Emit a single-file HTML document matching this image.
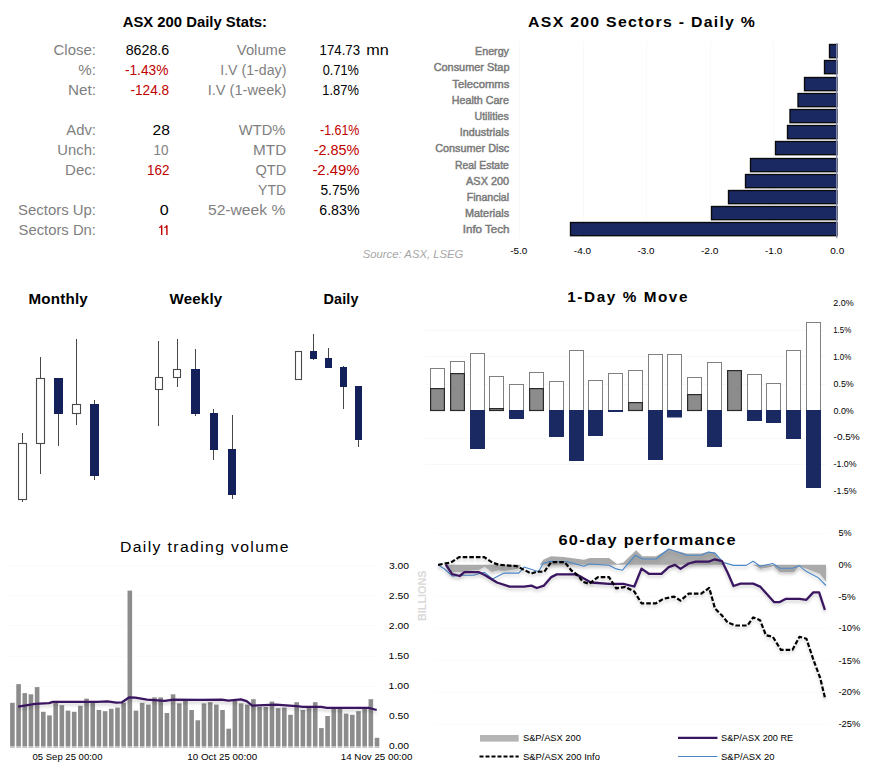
<!DOCTYPE html>
<html><head><meta charset="utf-8"><style>
html,body{margin:0;padding:0;background:#fff;width:884px;height:779px;overflow:hidden}
svg{display:block;font-family:"Liberation Sans",sans-serif}
</style></head><body>
<svg width="884" height="779" viewBox="0 0 884 779">
<text x="122.73" y="27.00" font-size="14" fill="#000" font-weight="bold" textLength="144.31" lengthAdjust="spacingAndGlyphs" >ASX 200 Daily Stats:</text>
<text x="53.55" y="54.60" font-size="14" fill="#7f7f7f" font-weight="normal" textLength="42.47" lengthAdjust="spacingAndGlyphs" >Close:</text>
<text x="78.27" y="74.60" font-size="14" fill="#7f7f7f" font-weight="normal" textLength="17.73" lengthAdjust="spacingAndGlyphs" >%:</text>
<text x="68.08" y="94.60" font-size="14" fill="#7f7f7f" font-weight="normal" textLength="27.95" lengthAdjust="spacingAndGlyphs" >Net:</text>
<text x="66.30" y="134.80" font-size="14" fill="#7f7f7f" font-weight="normal" textLength="29.65" lengthAdjust="spacingAndGlyphs" >Adv:</text>
<text x="57.39" y="154.80" font-size="14" fill="#7f7f7f" font-weight="normal" textLength="38.57" lengthAdjust="spacingAndGlyphs" >Unch:</text>
<text x="65.10" y="174.80" font-size="14" fill="#7f7f7f" font-weight="normal" textLength="30.87" lengthAdjust="spacingAndGlyphs" >Dec:</text>
<text x="18.03" y="214.80" font-size="14" fill="#7f7f7f" font-weight="normal" textLength="77.98" lengthAdjust="spacingAndGlyphs" >Sectors Up:</text>
<text x="18.53" y="234.80" font-size="14" fill="#7f7f7f" font-weight="normal" textLength="77.46" lengthAdjust="spacingAndGlyphs" >Sectors Dn:</text>
<text x="236.83" y="54.60" font-size="14" fill="#7f7f7f" font-weight="normal" textLength="49.35" lengthAdjust="spacingAndGlyphs" >Volume</text>
<text x="220.22" y="74.60" font-size="14" fill="#7f7f7f" font-weight="normal" textLength="66.17" lengthAdjust="spacingAndGlyphs" >I.V (1-day)</text>
<text x="207.68" y="94.60" font-size="14" fill="#7f7f7f" font-weight="normal" textLength="78.77" lengthAdjust="spacingAndGlyphs" >I.V (1-week)</text>
<text x="238.83" y="134.80" font-size="14" fill="#7f7f7f" font-weight="normal" textLength="46.50" lengthAdjust="spacingAndGlyphs" >WTD%</text>
<text x="253.08" y="154.80" font-size="14" fill="#7f7f7f" font-weight="normal" textLength="33.13" lengthAdjust="spacingAndGlyphs" >MTD</text>
<text x="255.45" y="174.80" font-size="14" fill="#7f7f7f" font-weight="normal" textLength="30.72" lengthAdjust="spacingAndGlyphs" >QTD</text>
<text x="258.05" y="194.80" font-size="14" fill="#7f7f7f" font-weight="normal" textLength="28.08" lengthAdjust="spacingAndGlyphs" >YTD</text>
<text x="207.97" y="214.80" font-size="14" fill="#7f7f7f" font-weight="normal" textLength="77.32" lengthAdjust="spacingAndGlyphs" >52-week %</text>
<text x="125.66" y="54.60" font-size="14" fill="#000" font-weight="normal" textLength="43.49" lengthAdjust="spacingAndGlyphs" >8628.6</text>
<text x="124.88" y="74.60" font-size="14" fill="#c00000" font-weight="normal" textLength="43.58" lengthAdjust="spacingAndGlyphs" >-1.43%</text>
<text x="130.49" y="94.60" font-size="14" fill="#c00000" font-weight="normal" textLength="38.67" lengthAdjust="spacingAndGlyphs" >-124.8</text>
<text x="152.52" y="134.80" font-size="14" fill="#000" font-weight="normal" textLength="17.34" lengthAdjust="spacingAndGlyphs" >28</text>
<text x="153.59" y="154.80" font-size="14" fill="#7f7f7f" font-weight="normal" textLength="15.02" lengthAdjust="spacingAndGlyphs" >10</text>
<text x="146.99" y="174.80" font-size="14" fill="#c00000" font-weight="normal" textLength="22.43" lengthAdjust="spacingAndGlyphs" >162</text>
<text x="159.76" y="214.80" font-size="14" fill="#000" font-weight="normal" textLength="8.92" lengthAdjust="spacingAndGlyphs" >0</text>
<path d="M161.0,225.2 L162.4,225.2 L162.4,234.9 L161.0,234.9 L161.0,227.6 Q160.4,228.0 159.0,228.0 L159.0,227.0 Q160.6,226.6 161.0,225.2 Z" fill="#c00000"/>
<path d="M166.2,225.2 L167.6,225.2 L167.6,234.9 L166.2,234.9 L166.2,227.6 Q165.6,228.0 164.2,228.0 L164.2,227.0 Q165.8,226.6 166.2,225.2 Z" fill="#c00000"/>
<text x="319.61" y="54.60" font-size="14" fill="#000" font-weight="normal" textLength="40.40" lengthAdjust="spacingAndGlyphs" >174.73</text>
<text x="366.35" y="54.60" font-size="14" fill="#000" font-weight="normal" textLength="22.49" lengthAdjust="spacingAndGlyphs" >mn</text>
<text x="322.79" y="74.60" font-size="14" fill="#000" font-weight="normal" textLength="36.06" lengthAdjust="spacingAndGlyphs" >0.71%</text>
<text x="322.33" y="94.60" font-size="14" fill="#000" font-weight="normal" textLength="36.52" lengthAdjust="spacingAndGlyphs" >1.87%</text>
<text x="320.04" y="134.80" font-size="14" fill="#c00000" font-weight="normal" textLength="39.38" lengthAdjust="spacingAndGlyphs" >-1.61%</text>
<text x="313.65" y="154.80" font-size="14" fill="#c00000" font-weight="normal" textLength="45.84" lengthAdjust="spacingAndGlyphs" >-2.85%</text>
<text x="312.43" y="174.80" font-size="14" fill="#c00000" font-weight="normal" textLength="47.07" lengthAdjust="spacingAndGlyphs" >-2.49%</text>
<text x="320.45" y="194.80" font-size="14" fill="#000" font-weight="normal" textLength="39.04" lengthAdjust="spacingAndGlyphs" >5.75%</text>
<text x="319.29" y="214.80" font-size="14" fill="#000" font-weight="normal" textLength="40.21" lengthAdjust="spacingAndGlyphs" >6.83%</text>
<text x="362.76" y="257.60" font-size="11.7" fill="#a6a6a6" font-weight="normal" font-style="italic" textLength="100.61" lengthAdjust="spacingAndGlyphs" >Source: ASX, LSEG</text>
<text transform="translate(528.50,27.20) scale(1.0571,1)" x="-0.38" y="0" font-size="15" fill="#000" font-weight="bold" letter-spacing="1.2" >ASX 200 Sectors - Daily %</text>
<line x1="837.5" y1="41" x2="837.5" y2="239" stroke="#f9f9f9" stroke-width="1"/>
<line x1="773.5" y1="41" x2="773.5" y2="239" stroke="#f9f9f9" stroke-width="1"/>
<line x1="710.5" y1="41" x2="710.5" y2="239" stroke="#f9f9f9" stroke-width="1"/>
<line x1="646.5" y1="41" x2="646.5" y2="239" stroke="#f9f9f9" stroke-width="1"/>
<line x1="583.5" y1="41" x2="583.5" y2="239" stroke="#f9f9f9" stroke-width="1"/>
<line x1="519.5" y1="41" x2="519.5" y2="239" stroke="#f9f9f9" stroke-width="1"/>
<rect x="829.5" y="44.5" width="7.5" height="13.2" fill="#1b2962" stroke="#0a0a0a" stroke-width="1.35"/>
<text x="475.04" y="55.15" font-size="10.5" fill="#7a7a7a" font-weight="normal" textLength="33.94" lengthAdjust="spacingAndGlyphs" stroke="#7a7a7a" stroke-width="0.45">Energy</text>
<rect x="824.5" y="60.5" width="12.5" height="13.2" fill="#1b2962" stroke="#0a0a0a" stroke-width="1.35"/>
<text x="433.65" y="71.15" font-size="10.5" fill="#7a7a7a" font-weight="normal" textLength="75.81" lengthAdjust="spacingAndGlyphs" stroke="#7a7a7a" stroke-width="0.45">Consumer Stap</text>
<rect x="804.5" y="77.5" width="32.5" height="13.2" fill="#1b2962" stroke="#0a0a0a" stroke-width="1.35"/>
<text x="452.27" y="88.15" font-size="10.5" fill="#7a7a7a" font-weight="normal" textLength="57.14" lengthAdjust="spacingAndGlyphs" stroke="#7a7a7a" stroke-width="0.45">Telecomms</text>
<rect x="798.0" y="93.5" width="39.0" height="13.2" fill="#1b2962" stroke="#0a0a0a" stroke-width="1.35"/>
<text x="451.84" y="104.15" font-size="10.5" fill="#7a7a7a" font-weight="normal" textLength="57.05" lengthAdjust="spacingAndGlyphs" stroke="#7a7a7a" stroke-width="0.45">Health Care</text>
<rect x="790.0" y="109.5" width="47.0" height="13.2" fill="#1b2962" stroke="#0a0a0a" stroke-width="1.35"/>
<text x="474.50" y="120.15" font-size="10.5" fill="#7a7a7a" font-weight="normal" textLength="34.24" lengthAdjust="spacingAndGlyphs" stroke="#7a7a7a" stroke-width="0.45">Utilities</text>
<rect x="787.5" y="125.5" width="49.5" height="13.2" fill="#1b2962" stroke="#0a0a0a" stroke-width="1.35"/>
<text x="459.83" y="136.15" font-size="10.5" fill="#7a7a7a" font-weight="normal" textLength="49.23" lengthAdjust="spacingAndGlyphs" stroke="#7a7a7a" stroke-width="0.45">Industrials</text>
<rect x="775.5" y="141.5" width="61.5" height="13.2" fill="#1b2962" stroke="#0a0a0a" stroke-width="1.35"/>
<text x="435.26" y="152.15" font-size="10.5" fill="#7a7a7a" font-weight="normal" textLength="74.01" lengthAdjust="spacingAndGlyphs" stroke="#7a7a7a" stroke-width="0.45">Consumer Disc</text>
<rect x="750.5" y="158.5" width="86.5" height="13.2" fill="#1b2962" stroke="#0a0a0a" stroke-width="1.35"/>
<text x="454.97" y="169.15" font-size="10.5" fill="#7a7a7a" font-weight="normal" textLength="53.90" lengthAdjust="spacingAndGlyphs" stroke="#7a7a7a" stroke-width="0.45">Real Estate</text>
<rect x="745.5" y="174.5" width="91.5" height="13.2" fill="#1b2962" stroke="#0a0a0a" stroke-width="1.35"/>
<text x="466.10" y="185.15" font-size="10.5" fill="#7a7a7a" font-weight="normal" textLength="43.01" lengthAdjust="spacingAndGlyphs" stroke="#7a7a7a" stroke-width="0.45">ASX 200</text>
<rect x="728.5" y="190.5" width="108.5" height="13.2" fill="#1b2962" stroke="#0a0a0a" stroke-width="1.35"/>
<text x="466.75" y="201.15" font-size="10.5" fill="#7a7a7a" font-weight="normal" textLength="42.36" lengthAdjust="spacingAndGlyphs" stroke="#7a7a7a" stroke-width="0.45">Financial</text>
<rect x="711.5" y="206.5" width="125.5" height="13.2" fill="#1b2962" stroke="#0a0a0a" stroke-width="1.35"/>
<text x="465.03" y="217.15" font-size="10.5" fill="#7a7a7a" font-weight="normal" textLength="44.07" lengthAdjust="spacingAndGlyphs" stroke="#7a7a7a" stroke-width="0.45">Materials</text>
<rect x="570.5" y="222.5" width="266.5" height="13.2" fill="#1b2962" stroke="#0a0a0a" stroke-width="1.35"/>
<text x="462.76" y="233.15" font-size="10.5" fill="#7a7a7a" font-weight="normal" textLength="46.69" lengthAdjust="spacingAndGlyphs" stroke="#7a7a7a" stroke-width="0.45">Info Tech</text>
<line x1="836.7" y1="43" x2="836.7" y2="238" stroke="#8790b5" stroke-width="1.3"/>
<text x="510.15" y="253.80" font-size="9.5" fill="#000" font-weight="normal" textLength="17.13" lengthAdjust="spacingAndGlyphs" >-5.0</text>
<text x="573.85" y="253.80" font-size="9.5" fill="#000" font-weight="normal" textLength="17.13" lengthAdjust="spacingAndGlyphs" >-4.0</text>
<text x="637.56" y="253.80" font-size="9.5" fill="#000" font-weight="normal" textLength="16.92" lengthAdjust="spacingAndGlyphs" >-3.0</text>
<text x="700.94" y="253.80" font-size="9.5" fill="#000" font-weight="normal" textLength="17.55" lengthAdjust="spacingAndGlyphs" >-2.0</text>
<text x="765.05" y="253.80" font-size="9.5" fill="#000" font-weight="normal" textLength="17.13" lengthAdjust="spacingAndGlyphs" >-1.0</text>
<text x="830.30" y="253.80" font-size="9.5" fill="#000" font-weight="normal" textLength="13.95" lengthAdjust="spacingAndGlyphs" >0.0</text>
<text transform="translate(29.50,303.60) scale(1.0445,1)" x="-0.94" y="0" font-size="14.5" fill="#000" font-weight="bold" letter-spacing="0.2" >Monthly</text>
<text transform="translate(169.50,303.60) scale(1.0397,1)" x="-0.00" y="0" font-size="14.5" fill="#000" font-weight="bold" letter-spacing="0.2" >Weekly</text>
<text transform="translate(324.30,303.60) scale(0.9930,1)" x="-0.94" y="0" font-size="14.5" fill="#000" font-weight="bold" letter-spacing="0.2" >Daily</text>
<rect x="22" y="433" width="1" height="10" fill="#474747"/>
<rect x="22" y="500" width="1" height="2" fill="#474747"/>
<rect x="18.5" y="443.5" width="8" height="56" fill="#fff" stroke="#4a4a4a" stroke-width="1.1"/>
<rect x="40" y="357" width="1" height="21" fill="#474747"/>
<rect x="40" y="444" width="1" height="30" fill="#474747"/>
<rect x="36.5" y="378.5" width="8" height="65" fill="#fff" stroke="#4a4a4a" stroke-width="1.1"/>
<rect x="58" y="414" width="1" height="32" fill="#474747"/>
<rect x="54" y="378" width="9" height="36" fill="#13205a"/>
<rect x="76" y="339" width="1" height="65" fill="#474747"/>
<rect x="76" y="414" width="1" height="11" fill="#474747"/>
<rect x="72.5" y="404.5" width="8" height="9" fill="#fff" stroke="#4a4a4a" stroke-width="1.1"/>
<rect x="94" y="400" width="1" height="4" fill="#474747"/>
<rect x="94" y="476" width="1" height="4" fill="#474747"/>
<rect x="90" y="404" width="9" height="72" fill="#13205a"/>
<rect x="158" y="341" width="1" height="36" fill="#474747"/>
<rect x="158" y="390" width="1" height="36" fill="#474747"/>
<rect x="155.5" y="377.5" width="7" height="12" fill="#fff" stroke="#4a4a4a" stroke-width="1.1"/>
<rect x="177" y="339" width="1" height="30" fill="#474747"/>
<rect x="177" y="378" width="1" height="9" fill="#474747"/>
<rect x="173.5" y="369.5" width="7" height="8" fill="#fff" stroke="#4a4a4a" stroke-width="1.1"/>
<rect x="195" y="349" width="1" height="20" fill="#474747"/>
<rect x="195" y="414" width="1" height="2" fill="#474747"/>
<rect x="191" y="369" width="9" height="45" fill="#13205a"/>
<rect x="213" y="409" width="1" height="4" fill="#474747"/>
<rect x="213" y="450" width="1" height="10" fill="#474747"/>
<rect x="210" y="413" width="8" height="37" fill="#13205a"/>
<rect x="232" y="415" width="1" height="34" fill="#474747"/>
<rect x="232" y="495" width="1" height="4" fill="#474747"/>
<rect x="228" y="449" width="8" height="46" fill="#13205a"/>
<rect x="295.5" y="351.5" width="6" height="28" fill="#fff" stroke="#4a4a4a" stroke-width="1.1"/>
<rect x="313" y="334" width="1" height="17" fill="#474747"/>
<rect x="313" y="359" width="1" height="1" fill="#474747"/>
<rect x="310" y="351" width="7" height="8" fill="#13205a"/>
<rect x="328" y="348" width="1" height="10" fill="#474747"/>
<rect x="325" y="358" width="7" height="10" fill="#13205a"/>
<rect x="343" y="366" width="1" height="1" fill="#474747"/>
<rect x="343" y="387" width="1" height="22" fill="#474747"/>
<rect x="340" y="367" width="7" height="20" fill="#13205a"/>
<rect x="358" y="440" width="1" height="7" fill="#474747"/>
<rect x="355" y="386" width="7" height="54" fill="#13205a"/>
<text transform="translate(568.20,301.60) scale(1.0547,1)" x="-0.87" y="0" font-size="14.5" fill="#000" font-weight="bold" letter-spacing="1.5" >1-Day % Move</text>
<line x1="425" y1="464.5" x2="826" y2="464.5" stroke="#f8f8f8" stroke-width="1"/>
<line x1="425" y1="438.5" x2="826" y2="438.5" stroke="#f8f8f8" stroke-width="1"/>
<line x1="425" y1="384.5" x2="826" y2="384.5" stroke="#f8f8f8" stroke-width="1"/>
<line x1="425" y1="356.5" x2="826" y2="356.5" stroke="#f8f8f8" stroke-width="1"/>
<line x1="425" y1="330.5" x2="826" y2="330.5" stroke="#f8f8f8" stroke-width="1"/>
<text x="833.35" y="306.20" font-size="9.3" fill="#000" font-weight="normal" textLength="20.46" lengthAdjust="spacingAndGlyphs" >2.0%</text>
<text x="833.21" y="333.20" font-size="9.3" fill="#000" font-weight="normal" textLength="18.07" lengthAdjust="spacingAndGlyphs" >1.5%</text>
<text x="833.21" y="360.20" font-size="9.3" fill="#000" font-weight="normal" textLength="18.07" lengthAdjust="spacingAndGlyphs" >1.0%</text>
<text x="833.44" y="387.20" font-size="9.3" fill="#000" font-weight="normal" textLength="20.36" lengthAdjust="spacingAndGlyphs" >0.5%</text>
<text x="833.44" y="413.90" font-size="9.3" fill="#000" font-weight="normal" textLength="20.36" lengthAdjust="spacingAndGlyphs" >0.0%</text>
<text x="833.55" y="439.80" font-size="9.3" fill="#000" font-weight="normal" textLength="26.17" lengthAdjust="spacingAndGlyphs" >-0.5%</text>
<text x="833.60" y="466.80" font-size="9.3" fill="#000" font-weight="normal" textLength="22.98" lengthAdjust="spacingAndGlyphs" >-1.0%</text>
<text x="833.60" y="493.90" font-size="9.3" fill="#000" font-weight="normal" textLength="22.98" lengthAdjust="spacingAndGlyphs" >-1.5%</text>
<rect x="430.5" y="368.5" width="14" height="42" fill="#fff" stroke="#808080" stroke-width="1"/>
<rect x="430.6" y="388.6" width="13.8" height="21.9" fill="#8c8c8c" stroke="#2a2a2a" stroke-width="1.2"/>
<rect x="450.5" y="361.5" width="14" height="49" fill="#fff" stroke="#808080" stroke-width="1"/>
<rect x="450.6" y="373.6" width="13.8" height="36.9" fill="#8c8c8c" stroke="#2a2a2a" stroke-width="1.2"/>
<rect x="470.5" y="353.5" width="14" height="57" fill="#fff" stroke="#808080" stroke-width="1"/>
<rect x="470" y="410" width="15" height="39" fill="#1b2962"/>
<rect x="489.5" y="376.5" width="14" height="34" fill="#fff" stroke="#808080" stroke-width="1"/>
<rect x="489.6" y="408.6" width="13.8" height="1.9" fill="#8c8c8c" stroke="#2a2a2a" stroke-width="1.2"/>
<rect x="509.5" y="384.5" width="14" height="26" fill="#fff" stroke="#808080" stroke-width="1"/>
<rect x="509" y="410" width="15" height="9" fill="#1b2962"/>
<rect x="529.5" y="372.5" width="14" height="38" fill="#fff" stroke="#808080" stroke-width="1"/>
<rect x="529.6" y="388.6" width="13.8" height="21.9" fill="#8c8c8c" stroke="#2a2a2a" stroke-width="1.2"/>
<rect x="549.5" y="381.5" width="14" height="29" fill="#fff" stroke="#808080" stroke-width="1"/>
<rect x="549" y="410" width="15" height="27" fill="#1b2962"/>
<rect x="569.5" y="350.5" width="14" height="60" fill="#fff" stroke="#808080" stroke-width="1"/>
<rect x="569" y="410" width="15" height="51" fill="#1b2962"/>
<rect x="588.5" y="380.5" width="14" height="30" fill="#fff" stroke="#808080" stroke-width="1"/>
<rect x="588" y="410" width="15" height="26" fill="#1b2962"/>
<rect x="608.5" y="373.5" width="14" height="37" fill="#fff" stroke="#808080" stroke-width="1"/>
<rect x="608" y="410" width="15" height="2" fill="#1b2962"/>
<rect x="628.5" y="370.5" width="14" height="40" fill="#fff" stroke="#808080" stroke-width="1"/>
<rect x="628.6" y="402.6" width="13.8" height="7.9" fill="#8c8c8c" stroke="#2a2a2a" stroke-width="1.2"/>
<rect x="648.5" y="354.5" width="14" height="56" fill="#fff" stroke="#808080" stroke-width="1"/>
<rect x="648" y="410" width="15" height="50" fill="#1b2962"/>
<rect x="667.5" y="354.5" width="14" height="56" fill="#fff" stroke="#808080" stroke-width="1"/>
<rect x="667" y="410" width="15" height="7.5" fill="#1b2962"/>
<rect x="687.5" y="377.5" width="14" height="33" fill="#fff" stroke="#808080" stroke-width="1"/>
<rect x="687.6" y="394.6" width="13.8" height="15.9" fill="#8c8c8c" stroke="#2a2a2a" stroke-width="1.2"/>
<rect x="707.5" y="362.5" width="14" height="48" fill="#fff" stroke="#808080" stroke-width="1"/>
<rect x="707" y="410" width="15" height="37" fill="#1b2962"/>
<rect x="727.5" y="370.5" width="14" height="40" fill="#fff" stroke="#808080" stroke-width="1"/>
<rect x="727.6" y="370.6" width="13.8" height="39.9" fill="#8c8c8c" stroke="#2a2a2a" stroke-width="1.2"/>
<rect x="747.5" y="374.5" width="14" height="36" fill="#fff" stroke="#808080" stroke-width="1"/>
<rect x="747" y="410" width="15" height="11" fill="#1b2962"/>
<rect x="766.5" y="383.5" width="14" height="27" fill="#fff" stroke="#808080" stroke-width="1"/>
<rect x="766" y="410" width="15" height="13" fill="#1b2962"/>
<rect x="786.5" y="350.5" width="14" height="60" fill="#fff" stroke="#808080" stroke-width="1"/>
<rect x="786" y="410" width="15" height="29" fill="#1b2962"/>
<rect x="806.5" y="322.5" width="14" height="88" fill="#fff" stroke="#808080" stroke-width="1"/>
<rect x="806" y="410" width="15" height="78" fill="#1b2962"/>
<defs><filter id="sh" x="-5%" y="-20%" width="110%" height="160%"><feDropShadow dx="0" dy="2.5" stdDeviation="1.6" flood-color="#000" flood-opacity="0.18"/></filter><linearGradient id="bb" x1="0" y1="0" x2="0" y2="1"><stop offset="0" stop-color="#8c8c8c"/><stop offset="1" stop-color="#c8c8c8"/></linearGradient></defs>
<text transform="translate(121.20,552.20) scale(1.0509,1)" x="-1.20" y="0" font-size="15" fill="#000" font-weight="normal" letter-spacing="1.3" >Daily trading volume</text>
<line x1="8" y1="716.5" x2="380" y2="716.5" stroke="#fbfbfb" stroke-width="1"/>
<line x1="8" y1="686.5" x2="380" y2="686.5" stroke="#fbfbfb" stroke-width="1"/>
<line x1="8" y1="656.5" x2="380" y2="656.5" stroke="#fbfbfb" stroke-width="1"/>
<line x1="8" y1="625.5" x2="380" y2="625.5" stroke="#fbfbfb" stroke-width="1"/>
<line x1="8" y1="595.5" x2="380" y2="595.5" stroke="#fbfbfb" stroke-width="1"/>
<line x1="8" y1="565.5" x2="380" y2="565.5" stroke="#fbfbfb" stroke-width="1"/>
<rect x="10.10" y="702.8" width="4.6" height="43.2" fill="#8c8c8c"/>
<rect x="10.10" y="746.0" width="4.6" height="2" fill="#c4c4c4"/>
<rect x="16.28" y="684.1" width="4.6" height="61.9" fill="#8c8c8c"/>
<rect x="16.28" y="746.0" width="4.6" height="2" fill="#c4c4c4"/>
<rect x="22.46" y="693.1" width="4.6" height="52.9" fill="#8c8c8c"/>
<rect x="22.46" y="746.0" width="4.6" height="2" fill="#c4c4c4"/>
<rect x="28.64" y="694.3" width="4.6" height="51.7" fill="#8c8c8c"/>
<rect x="28.64" y="746.0" width="4.6" height="2" fill="#c4c4c4"/>
<rect x="34.82" y="687.1" width="4.6" height="58.9" fill="#8c8c8c"/>
<rect x="34.82" y="746.0" width="4.6" height="2" fill="#c4c4c4"/>
<rect x="41.00" y="711.8" width="4.6" height="34.2" fill="#8c8c8c"/>
<rect x="41.00" y="746.0" width="4.6" height="2" fill="#c4c4c4"/>
<rect x="47.18" y="715.4" width="4.6" height="30.6" fill="#8c8c8c"/>
<rect x="47.18" y="746.0" width="4.6" height="2" fill="#c4c4c4"/>
<rect x="53.36" y="701.0" width="4.6" height="45.0" fill="#8c8c8c"/>
<rect x="53.36" y="746.0" width="4.6" height="2" fill="#c4c4c4"/>
<rect x="59.54" y="705.2" width="4.6" height="40.8" fill="#8c8c8c"/>
<rect x="59.54" y="746.0" width="4.6" height="2" fill="#c4c4c4"/>
<rect x="65.72" y="710.6" width="4.6" height="35.4" fill="#8c8c8c"/>
<rect x="65.72" y="746.0" width="4.6" height="2" fill="#c4c4c4"/>
<rect x="71.90" y="711.8" width="4.6" height="34.2" fill="#8c8c8c"/>
<rect x="71.90" y="746.0" width="4.6" height="2" fill="#c4c4c4"/>
<rect x="78.08" y="705.8" width="4.6" height="40.2" fill="#8c8c8c"/>
<rect x="78.08" y="746.0" width="4.6" height="2" fill="#c4c4c4"/>
<rect x="84.26" y="698.6" width="4.6" height="47.4" fill="#8c8c8c"/>
<rect x="84.26" y="746.0" width="4.6" height="2" fill="#c4c4c4"/>
<rect x="90.44" y="701.0" width="4.6" height="45.0" fill="#8c8c8c"/>
<rect x="90.44" y="746.0" width="4.6" height="2" fill="#c4c4c4"/>
<rect x="96.62" y="710.0" width="4.6" height="36.0" fill="#8c8c8c"/>
<rect x="96.62" y="746.0" width="4.6" height="2" fill="#c4c4c4"/>
<rect x="102.80" y="711.2" width="4.6" height="34.8" fill="#8c8c8c"/>
<rect x="102.80" y="746.0" width="4.6" height="2" fill="#c4c4c4"/>
<rect x="108.98" y="708.8" width="4.6" height="37.2" fill="#8c8c8c"/>
<rect x="108.98" y="746.0" width="4.6" height="2" fill="#c4c4c4"/>
<rect x="115.16" y="707.6" width="4.6" height="38.4" fill="#8c8c8c"/>
<rect x="115.16" y="746.0" width="4.6" height="2" fill="#c4c4c4"/>
<rect x="121.34" y="702.8" width="4.6" height="43.2" fill="#8c8c8c"/>
<rect x="121.34" y="746.0" width="4.6" height="2" fill="#c4c4c4"/>
<rect x="127.52" y="590.6" width="4.6" height="155.4" fill="#8c8c8c"/>
<rect x="127.52" y="746.0" width="4.6" height="2" fill="#c4c4c4"/>
<rect x="133.70" y="710.6" width="4.6" height="35.4" fill="#8c8c8c"/>
<rect x="133.70" y="746.0" width="4.6" height="2" fill="#c4c4c4"/>
<rect x="139.88" y="702.8" width="4.6" height="43.2" fill="#8c8c8c"/>
<rect x="139.88" y="746.0" width="4.6" height="2" fill="#c4c4c4"/>
<rect x="146.06" y="704.6" width="4.6" height="41.4" fill="#8c8c8c"/>
<rect x="146.06" y="746.0" width="4.6" height="2" fill="#c4c4c4"/>
<rect x="152.24" y="697.4" width="4.6" height="48.6" fill="#8c8c8c"/>
<rect x="152.24" y="746.0" width="4.6" height="2" fill="#c4c4c4"/>
<rect x="158.42" y="697.4" width="4.6" height="48.6" fill="#8c8c8c"/>
<rect x="158.42" y="746.0" width="4.6" height="2" fill="#c4c4c4"/>
<rect x="164.60" y="713.0" width="4.6" height="33.0" fill="#8c8c8c"/>
<rect x="164.60" y="746.0" width="4.6" height="2" fill="#c4c4c4"/>
<rect x="170.78" y="694.3" width="4.6" height="51.7" fill="#8c8c8c"/>
<rect x="170.78" y="746.0" width="4.6" height="2" fill="#c4c4c4"/>
<rect x="176.96" y="703.4" width="4.6" height="42.6" fill="#8c8c8c"/>
<rect x="176.96" y="746.0" width="4.6" height="2" fill="#c4c4c4"/>
<rect x="183.14" y="700.4" width="4.6" height="45.6" fill="#8c8c8c"/>
<rect x="183.14" y="746.0" width="4.6" height="2" fill="#c4c4c4"/>
<rect x="189.32" y="710.0" width="4.6" height="36.0" fill="#8c8c8c"/>
<rect x="189.32" y="746.0" width="4.6" height="2" fill="#c4c4c4"/>
<rect x="195.50" y="720.3" width="4.6" height="25.7" fill="#8c8c8c"/>
<rect x="195.50" y="746.0" width="4.6" height="2" fill="#c4c4c4"/>
<rect x="201.68" y="703.4" width="4.6" height="42.6" fill="#8c8c8c"/>
<rect x="201.68" y="746.0" width="4.6" height="2" fill="#c4c4c4"/>
<rect x="207.86" y="702.2" width="4.6" height="43.8" fill="#8c8c8c"/>
<rect x="207.86" y="746.0" width="4.6" height="2" fill="#c4c4c4"/>
<rect x="214.04" y="704.6" width="4.6" height="41.4" fill="#8c8c8c"/>
<rect x="214.04" y="746.0" width="4.6" height="2" fill="#c4c4c4"/>
<rect x="220.22" y="710.0" width="4.6" height="36.0" fill="#8c8c8c"/>
<rect x="220.22" y="746.0" width="4.6" height="2" fill="#c4c4c4"/>
<rect x="226.40" y="728.7" width="4.6" height="17.3" fill="#8c8c8c"/>
<rect x="226.40" y="746.0" width="4.6" height="2" fill="#c4c4c4"/>
<rect x="232.58" y="701.0" width="4.6" height="45.0" fill="#8c8c8c"/>
<rect x="232.58" y="746.0" width="4.6" height="2" fill="#c4c4c4"/>
<rect x="238.76" y="703.4" width="4.6" height="42.6" fill="#8c8c8c"/>
<rect x="238.76" y="746.0" width="4.6" height="2" fill="#c4c4c4"/>
<rect x="244.94" y="704.6" width="4.6" height="41.4" fill="#8c8c8c"/>
<rect x="244.94" y="746.0" width="4.6" height="2" fill="#c4c4c4"/>
<rect x="251.12" y="699.2" width="4.6" height="46.8" fill="#8c8c8c"/>
<rect x="251.12" y="746.0" width="4.6" height="2" fill="#c4c4c4"/>
<rect x="257.30" y="707.0" width="4.6" height="39.0" fill="#8c8c8c"/>
<rect x="257.30" y="746.0" width="4.6" height="2" fill="#c4c4c4"/>
<rect x="263.48" y="707.0" width="4.6" height="39.0" fill="#8c8c8c"/>
<rect x="263.48" y="746.0" width="4.6" height="2" fill="#c4c4c4"/>
<rect x="269.66" y="701.6" width="4.6" height="44.4" fill="#8c8c8c"/>
<rect x="269.66" y="746.0" width="4.6" height="2" fill="#c4c4c4"/>
<rect x="275.84" y="708.2" width="4.6" height="37.8" fill="#8c8c8c"/>
<rect x="275.84" y="746.0" width="4.6" height="2" fill="#c4c4c4"/>
<rect x="282.02" y="707.6" width="4.6" height="38.4" fill="#8c8c8c"/>
<rect x="282.02" y="746.0" width="4.6" height="2" fill="#c4c4c4"/>
<rect x="288.20" y="714.8" width="4.6" height="31.2" fill="#8c8c8c"/>
<rect x="288.20" y="746.0" width="4.6" height="2" fill="#c4c4c4"/>
<rect x="294.38" y="702.2" width="4.6" height="43.8" fill="#8c8c8c"/>
<rect x="294.38" y="746.0" width="4.6" height="2" fill="#c4c4c4"/>
<rect x="300.56" y="710.0" width="4.6" height="36.0" fill="#8c8c8c"/>
<rect x="300.56" y="746.0" width="4.6" height="2" fill="#c4c4c4"/>
<rect x="306.74" y="707.6" width="4.6" height="38.4" fill="#8c8c8c"/>
<rect x="306.74" y="746.0" width="4.6" height="2" fill="#c4c4c4"/>
<rect x="312.92" y="702.2" width="4.6" height="43.8" fill="#8c8c8c"/>
<rect x="312.92" y="746.0" width="4.6" height="2" fill="#c4c4c4"/>
<rect x="319.10" y="728.1" width="4.6" height="17.9" fill="#8c8c8c"/>
<rect x="319.10" y="746.0" width="4.6" height="2" fill="#c4c4c4"/>
<rect x="325.28" y="716.0" width="4.6" height="30.0" fill="#8c8c8c"/>
<rect x="325.28" y="746.0" width="4.6" height="2" fill="#c4c4c4"/>
<rect x="331.46" y="708.8" width="4.6" height="37.2" fill="#8c8c8c"/>
<rect x="331.46" y="746.0" width="4.6" height="2" fill="#c4c4c4"/>
<rect x="337.64" y="708.8" width="4.6" height="37.2" fill="#8c8c8c"/>
<rect x="337.64" y="746.0" width="4.6" height="2" fill="#c4c4c4"/>
<rect x="343.82" y="713.6" width="4.6" height="32.4" fill="#8c8c8c"/>
<rect x="343.82" y="746.0" width="4.6" height="2" fill="#c4c4c4"/>
<rect x="350.00" y="714.8" width="4.6" height="31.2" fill="#8c8c8c"/>
<rect x="350.00" y="746.0" width="4.6" height="2" fill="#c4c4c4"/>
<rect x="356.18" y="711.2" width="4.6" height="34.8" fill="#8c8c8c"/>
<rect x="356.18" y="746.0" width="4.6" height="2" fill="#c4c4c4"/>
<rect x="362.36" y="707.6" width="4.6" height="38.4" fill="#8c8c8c"/>
<rect x="362.36" y="746.0" width="4.6" height="2" fill="#c4c4c4"/>
<rect x="368.54" y="699.2" width="4.6" height="46.8" fill="#8c8c8c"/>
<rect x="368.54" y="746.0" width="4.6" height="2" fill="#c4c4c4"/>
<rect x="374.72" y="737.8" width="4.6" height="8.2" fill="#8c8c8c"/>
<rect x="374.72" y="746.0" width="4.6" height="2" fill="#c4c4c4"/>
<polyline points="18.2,706.7 35.3,703.8 49.0,703.2 53.0,701.9 97.0,701.9 107.4,701.4 116.2,702.6 122.0,702.3 129.4,697.3 135.3,697.6 147.0,699.6 164.7,700.8 173.5,699.6 200.0,699.9 221.7,699.7 228.5,700.6 240.9,699.3 246.6,701.1 252.2,705.6 276.0,704.6 296.3,706.2 303.1,706.9 321.2,706.9 326.9,707.8 348.4,707.8 368.7,707.8 376.7,710.0" fill="none" stroke="#3b1660" stroke-width="2.3" stroke-linejoin="round" filter="url(#sh)"/>
<text x="32.52" y="759.80" font-size="9.4" fill="#000" font-weight="normal" textLength="69.91" lengthAdjust="spacingAndGlyphs" >05 Sep 25 00:00</text>
<text x="187.36" y="759.80" font-size="9.4" fill="#000" font-weight="normal" textLength="69.79" lengthAdjust="spacingAndGlyphs" >10 Oct 25 00:00</text>
<text x="340.77" y="759.80" font-size="9.4" fill="#000" font-weight="normal" textLength="71.66" lengthAdjust="spacingAndGlyphs" >14 Nov 25 00:00</text>
<text x="388.99" y="749.20" font-size="9.3" fill="#000" font-weight="normal" textLength="20.09" lengthAdjust="spacingAndGlyphs" >0.00</text>
<text x="388.99" y="719.17" font-size="9.3" fill="#000" font-weight="normal" textLength="20.09" lengthAdjust="spacingAndGlyphs" >0.50</text>
<text x="388.61" y="689.14" font-size="9.3" fill="#000" font-weight="normal" textLength="20.47" lengthAdjust="spacingAndGlyphs" >1.00</text>
<text x="388.61" y="659.11" font-size="9.3" fill="#000" font-weight="normal" textLength="20.47" lengthAdjust="spacingAndGlyphs" >1.50</text>
<text x="388.88" y="629.08" font-size="9.3" fill="#000" font-weight="normal" textLength="20.20" lengthAdjust="spacingAndGlyphs" >2.00</text>
<text x="388.88" y="599.05" font-size="9.3" fill="#000" font-weight="normal" textLength="20.20" lengthAdjust="spacingAndGlyphs" >2.50</text>
<text x="388.99" y="569.02" font-size="9.3" fill="#000" font-weight="normal" textLength="20.09" lengthAdjust="spacingAndGlyphs" >3.00</text>
<text transform="translate(426,621) rotate(-90)" x="0" y="0" font-size="11.5" fill="#d9d9d9" font-weight="bold" textLength="50.6" lengthAdjust="spacingAndGlyphs">BILLIONS</text>
<text transform="translate(559.00,545.40) scale(1.0875,1)" x="-0.53" y="0" font-size="15" fill="#000" font-weight="bold" letter-spacing="1.2" >60-day performance</text>
<line x1="435" y1="724.5" x2="830" y2="724.5" stroke="#fbfbfb" stroke-width="1"/>
<line x1="435" y1="692.5" x2="830" y2="692.5" stroke="#fbfbfb" stroke-width="1"/>
<line x1="435" y1="660.5" x2="830" y2="660.5" stroke="#fbfbfb" stroke-width="1"/>
<line x1="435" y1="628.5" x2="830" y2="628.5" stroke="#fbfbfb" stroke-width="1"/>
<line x1="435" y1="596.5" x2="830" y2="596.5" stroke="#fbfbfb" stroke-width="1"/>
<line x1="435" y1="533.5" x2="830" y2="533.5" stroke="#fbfbfb" stroke-width="1"/>
<text x="838.44" y="535.90" font-size="9.6" fill="#000" font-weight="normal" textLength="13.19" lengthAdjust="spacingAndGlyphs" >5%</text>
<text x="838.44" y="568.10" font-size="9.6" fill="#000" font-weight="normal" textLength="13.19" lengthAdjust="spacingAndGlyphs" >0%</text>
<text x="838.36" y="600.30" font-size="9.6" fill="#000" font-weight="normal" textLength="17.26" lengthAdjust="spacingAndGlyphs" >-5%</text>
<text x="838.38" y="631.20" font-size="9.6" fill="#000" font-weight="normal" textLength="21.95" lengthAdjust="spacingAndGlyphs" >-10%</text>
<text x="838.38" y="663.50" font-size="9.6" fill="#000" font-weight="normal" textLength="21.95" lengthAdjust="spacingAndGlyphs" >-15%</text>
<text x="838.38" y="695.30" font-size="9.6" fill="#000" font-weight="normal" textLength="21.95" lengthAdjust="spacingAndGlyphs" >-20%</text>
<text x="838.38" y="727.00" font-size="9.6" fill="#000" font-weight="normal" textLength="21.95" lengthAdjust="spacingAndGlyphs" >-25%</text>
<polygon points="438.1,564.7 445.8,564.7 450.3,572.4 461.1,572.0 479.2,569.7 484.7,567.0 491.9,572.0 497.3,570.6 504.7,571.0 518.3,568.8 521.0,564.7 539.8,564.7 543.2,559.7 551.1,556.3 563.5,556.9 583.9,559.7 590.0,558.0 609.0,558.0 617.1,564.0 623.4,562.6 636.1,550.3 642.4,556.2 656.0,556.2 668.7,549.0 686.8,553.5 701.3,553.5 708.5,551.7 714.8,552.6 723.0,564.7 752.0,564.7 756.0,566.0 760.4,568.7 771.2,567.0 773.3,566.0 779.8,572.0 793.8,572.0 799.1,566.5 804.5,568.1 819.6,573.5 826.0,581.6 826.0,564.7" fill="#aaaaaa" filter="url(#sh)"/>
<polyline points="438.1,564.8 444.5,569.0 452.6,576.2 459.9,575.3 473.4,575.3 484.3,572.2 492.4,578.9 504.2,573.1 518.7,573.1 524.1,567.1 538.6,571.7 543.1,563.5 550.4,561.2 567.6,561.7 583.8,566.2 589.0,564.0 609.0,565.3 616.2,568.9 622.5,570.2 635.2,555.3 642.4,559.0 656.0,559.0 668.7,549.0 686.8,555.3 701.3,555.3 708.5,552.1 715.0,553.1 723.1,562.4 733.5,565.4 746.2,565.4 753.2,561.2 760.1,566.3 772.8,563.5 779.8,568.2 792.5,568.2 799.4,565.8 806.4,571.6 817.9,577.4 826.0,585.5" fill="none" stroke="#4a86c8" stroke-width="1.1" stroke-linejoin="round" filter="url(#sh)"/>
<polyline points="445.8,564.7 452.1,574.2 459.8,576.0 464.4,572.2 478.9,572.2 484.3,574.8 497.0,582.5 509.6,586.7 524.1,586.7 531.4,585.6 536.8,588.0 544.0,585.6 551.3,577.1 556.7,574.4 574.8,574.4 580.0,576.2 590.9,582.5 609.0,583.8 623.4,583.8 634.3,586.5 641.5,568.6 648.8,573.8 661.4,573.8 668.7,567.1 675.0,564.8 680.5,568.9 688.6,563.5 695.8,561.7 708.5,561.7 714.8,559.3 722.0,561.2 727.7,572.8 733.5,586.0 740.5,583.6 753.2,583.6 760.1,586.6 774.0,602.1 779.8,602.1 785.5,598.9 799.4,598.9 806.4,599.8 813.3,592.4 819.1,592.4 824.9,609.8" fill="none" stroke="#3b1660" stroke-width="2.3" stroke-linejoin="round" filter="url(#sh)"/>
<polyline points="438.1,564.8 450.8,562.6 459.0,557.2 484.3,557.2 492.4,562.6 498.8,564.8 516.9,566.2 524.1,569.9 531.4,573.5 536.8,571.7 544.3,571.8 551.1,562.2 564.7,562.2 571.4,570.5 578.2,575.5 582.8,581.8 589.0,583.8 598.1,577.1 609.0,577.1 616.2,588.3 625.2,587.0 634.3,591.5 641.5,603.3 656.0,603.3 663.3,598.8 674.1,596.6 680.5,600.6 688.6,593.7 701.3,593.7 709.2,587.8 715.0,608.6 722.0,615.5 727.7,622.5 735.8,625.5 747.4,625.5 753.2,617.4 760.1,620.2 765.9,635.2 772.8,636.8 780.9,649.8 792.5,649.8 799.4,636.8 806.4,638.7 813.3,659.5 820.2,678.0 824.9,697.6" fill="none" stroke="#000" stroke-width="2.2" stroke-dasharray="4.6,2" stroke-linejoin="round" filter="url(#sh)"/>
<rect x="480" y="735" width="38.7" height="6.6" fill="#b4b4b4"/>
<line x1="479.5" y1="756.6" x2="518.7" y2="756.6" stroke="#000" stroke-width="2" stroke-dasharray="4,2"/>
<line x1="678" y1="737.8" x2="717.5" y2="737.8" stroke="#3b1660" stroke-width="2.2"/>
<line x1="678" y1="756.5" x2="717.5" y2="756.5" stroke="#4a86c8" stroke-width="1"/>
<text x="522.98" y="741.20" font-size="9.3" fill="#000" font-weight="normal" textLength="57.86" lengthAdjust="spacingAndGlyphs" >S&amp;P/ASX 200</text>
<text x="522.98" y="760.20" font-size="9.3" fill="#000" font-weight="normal" textLength="76.92" lengthAdjust="spacingAndGlyphs" >S&amp;P/ASX 200 Info</text>
<text x="721.09" y="741.20" font-size="9.3" fill="#000" font-weight="normal" textLength="72.01" lengthAdjust="spacingAndGlyphs" >S&amp;P/ASX 200 RE</text>
<text x="721.08" y="759.80" font-size="9.3" fill="#000" font-weight="normal" textLength="53.35" lengthAdjust="spacingAndGlyphs" >S&amp;P/ASX 20</text>
</svg>
</body></html>
